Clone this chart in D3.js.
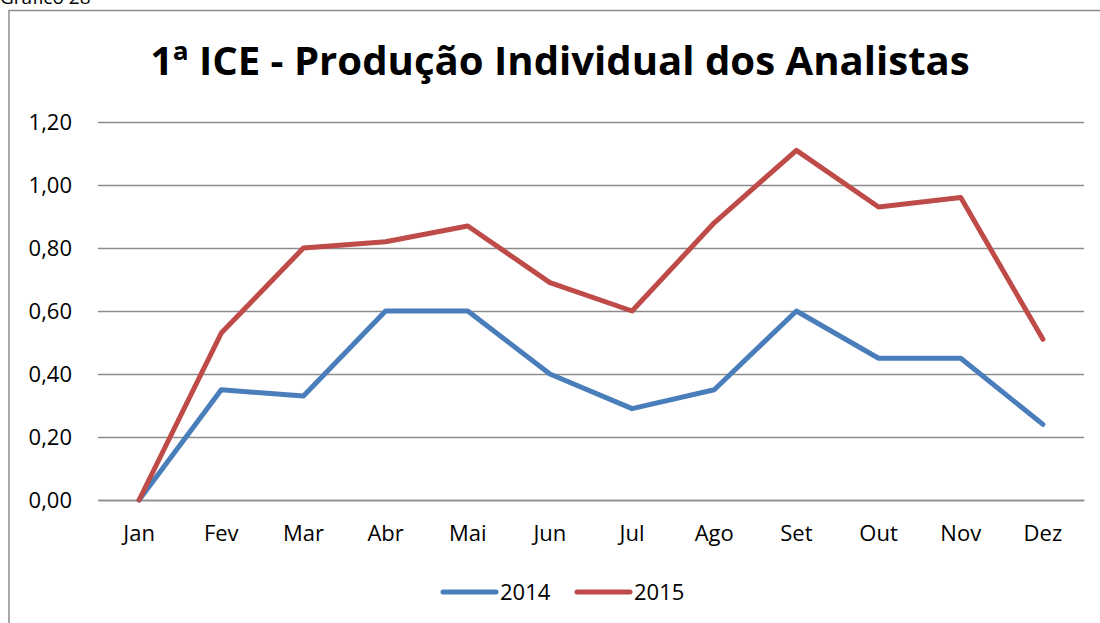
<!DOCTYPE html>
<html>
<head>
<meta charset="utf-8">
<script src="https://cdn.jsdelivr.net/npm/d3@7"></script>
<style>
  body { margin: 0; background: #fff; }
  text { font-family: "Open Sans", "Noto Sans", sans-serif; }
</style>
</head>
<body>
<div id="wrapper"></div>
<script>
const months = ["Jan", "Fev", "Mar", "Abr", "Mai", "Jun", "Jul", "Ago", "Set", "Out", "Nov", "Dez"]
const values2014 = [0, 0.35, 0.33, 0.60, 0.60, 0.40, 0.29, 0.35, 0.60, 0.45, 0.45, 0.24]
const values2015 = [0, 0.53, 0.80, 0.82, 0.87, 0.69, 0.60, 0.88, 1.11, 0.93, 0.96, 0.51]
const yTicks = [0, 0.2, 0.4, 0.6, 0.8, 1.0, 1.2]

const series = [
  { name: "2014", values: values2014, color: "#4A7EBB" },
  { name: "2015", values: values2015, color: "#BE4B48" },
]

const dimensions = {
  width: 1100,
  height: 623,
  margins: { top: 122, right: 16, bottom: 123, left: 98 },
}
dimensions.boundedWidth = dimensions.width - dimensions.margins.left - dimensions.margins.right
dimensions.boundedHeight = dimensions.height - dimensions.margins.top - dimensions.margins.bottom

const svg = d3.select("#wrapper")
  .append("svg")
  .attr("width", dimensions.width)
  .attr("height", dimensions.height)

// caption, cut off by the top edge as in the source page
svg.append("text")
  .text("Gráfico 28")
  .attr("x", 0)
  .attr("y", 4)
  .style("font-size", "19px")

// chart frame (runs off the page on the right and bottom)
svg.append("path")
  .attr("d", `M9,${dimensions.height + 5} V10.5 H${dimensions.width + 5}`)
  .attr("fill", "none")
  .attr("stroke", "#8c8c8c")
  .attr("stroke-width", 1.5)

const title = svg.append("text")
  .text("1ª ICE - Produção Individual dos Analistas")
  .attr("x", 560)
  .attr("y", 75)
  .attr("text-anchor", "middle")
  .style("font-size", "36px")
  .style("font-weight", "bold")
const tw = title.node().getComputedTextLength()
title.style("font-size", `${36 * 820 / tw}px`)

const bounds = svg.append("g")
  .attr("transform", `translate(${dimensions.margins.left},${dimensions.margins.top})`)

const xScale = d3.scaleBand()
  .domain(months)
  .range([0, dimensions.boundedWidth])

const yScale = d3.scaleLinear()
  .domain([0, 1.2])
  .range([dimensions.boundedHeight, 0])

// gridlines + y labels
const yAxis = bounds.append("g")
  .call(d3.axisLeft(yScale)
    .tickValues(yTicks)
    .tickSize(-dimensions.boundedWidth)
    .tickPadding(26)
    .tickFormat(d => d3.format(".2f")(d).replace(".", ",")))
yAxis.select(".domain").remove()
yAxis.selectAll(".tick line").attr("stroke", "#8c8c8c").attr("stroke-width", 1.5)
yAxis.selectAll(".tick text")
  .attr("fill", "#000")
  .style("font-size", "22px")
  .style("font-family", "'Open Sans', sans-serif")

const xAxis = bounds.append("g")
  .attr("transform", `translate(0,${dimensions.boundedHeight})`)
  .call(d3.axisBottom(xScale).tickSize(0).tickPadding(25))
xAxis.select(".domain").attr("stroke", "#8c8c8c").attr("stroke-width", 1.5)
xAxis.selectAll(".tick text")
  .attr("fill", "#000")
  .style("font-size", "22px")
  .style("font-family", "'Open Sans', sans-serif")

const lineGenerator = d3.line()
  .x((d, i) => xScale(months[i]) + xScale.bandwidth() / 2)
  .y(d => yScale(d))

bounds.selectAll(".series")
  .data(series)
  .join("path")
  .attr("class", "series")
  .attr("d", d => lineGenerator(d.values))
  .attr("fill", "none")
  .attr("stroke", d => d.color)
  .attr("stroke-width", 5)
  .attr("stroke-linejoin", "round")
  .attr("stroke-linecap", "round")

// legend
const legend = svg.append("g").attr("transform", "translate(443,592)")
const items = legend.selectAll("g")
  .data(series)
  .join("g")
  .attr("transform", (d, i) => `translate(${i * 134},0)`)
items.append("line")
  .attr("x1", 0).attr("x2", 53)
  .attr("stroke", d => d.color)
  .attr("stroke-width", 5)
  .attr("stroke-linecap", "round")
items.append("text")
  .text(d => d.name)
  .attr("x", 57)
  .attr("y", 8)
  .style("font-size", "22px")
</script>
</body>
</html>
